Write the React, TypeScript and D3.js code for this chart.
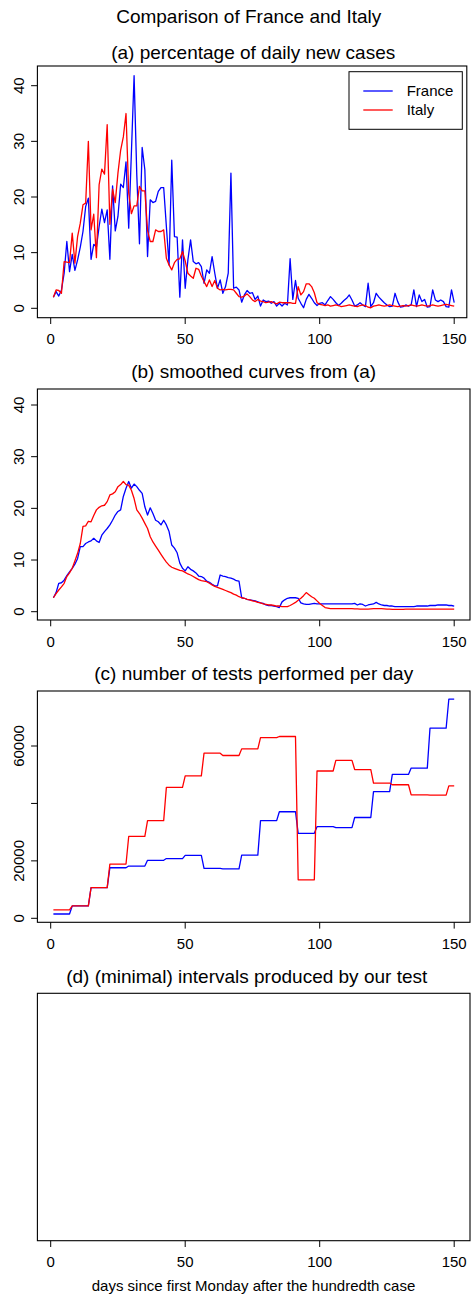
import React from "react";
import * as d3 from "d3";

// ---------- DATA ----------
const franceDaily = [
  2.0, 3.0, 2.2, 3.3, 6.3, 12.0, 6.6, 9.7, 6.8, 8.7,
  11.0, 13.8, 18.3, 19.8, 8.8, 11.5, 11.0, 14.7, 17.8, 15.4,
  17.7, 8.8, 22.0, 13.9, 16.5, 22.3, 21.7, 26.3, 14.4, 28.0,
  41.8, 24.0, 11.6, 28.9, 24.9, 9.3, 19.5, 19.0, 19.2, 21.0,
  21.7, 21.7, 14.7, 7.8, 26.6, 12.9, 12.8, 2.0, 12.3, 3.6,
  8.7, 12.3, 8.4, 8.0, 8.2, 7.5, 4.5, 6.9, 6.3, 9.3,
  6.3, 3.6, 5.1, 2.7, 3.9, 6.3, 24.3, 3.6, 3.8, 3.3,
  1.1, 2.4, 3.2, 2.7, 2.8, 1.6, 2.2, 0.4, 1.5, 1.2,
  1.3, 0.9, 1.2, 0.4, 0.9, 0.4, 0.9, 0.6, 8.9, 1.6,
  5.0, 1.8, 0.9, 0.1, 1.6, 2.5, 1.8, 1.0, 0.5, 0.9,
  1.0, 0.6, 1.4, 2.1, 1.6, 1.0, 0.5, 0.9, 1.4, 1.8,
  2.4, 1.5, 0.4, 0.6, 1.0, 0.6, 0.3, 4.5, 0.3, 1.0,
  2.7, 2.0, 1.5, 1.0, 0.6, 0.3, 0.4, 2.7, 1.2, 0.2,
  0.3, 0.6, 0.4, 0.6, 3.3, 0.3, 2.4, 1.2, 1.6, 0.2,
  0.3, 3.3, 1.5, 1.2, 1.5, 1.2, 0.3, 0.2, 3.3, 1.0,
];

const italyDaily = [
  2.0, 3.3, 3.2, 2.7, 8.4, 8.3, 8.2, 13.5, 8.1, 12.9,
  15.3, 18.6, 18.9, 30.0, 14.1, 16.9, 9.1, 22.2, 25.0, 24.1,
  33.0, 15.1, 21.4, 19.0, 24.3, 28.4, 30.8, 35.0, 20.7, 17.0,
  18.4, 18.4, 21.9, 21.1, 21.1, 14.0, 12.0, 12.0, 14.1, 13.8,
  13.8, 14.1, 9.0, 7.8, 6.9, 8.2, 8.8, 8.9, 10.2, 8.5,
  6.3, 5.8, 5.4, 7.2, 7.0, 5.8, 4.8, 3.9, 5.1, 3.9,
  5.0, 3.6, 3.3, 3.4, 3.3, 3.4, 3.4, 3.3, 2.7, 2.1,
  2.0, 2.2, 2.6, 2.1, 1.5, 1.2, 1.6, 1.3, 1.2, 1.0,
  1.1, 1.2, 1.0, 0.8, 1.1, 1.0, 1.0, 1.0, 1.0, 0.9,
  0.9, 3.9, 2.4, 3.0, 4.4, 4.4, 3.9, 2.8, 1.0, 0.7,
  0.6, 0.5, 0.6, 0.4, 0.5, 0.6, 0.5, 0.3, 0.4, 0.5,
  0.6, 0.5, 0.4, 0.3, 0.5, 0.6, 0.5, 0.2, 0.1, 0.4,
  0.5, 0.6, 0.5, 0.4, 0.5, 0.6, 0.5, 0.4, 0.3, 0.4,
  0.5, 0.4, 0.5, 0.6, 0.5, 0.4, 0.5, 0.6, 0.5, 0.4,
  0.5, 0.6, 0.5, 0.4, 0.5, 0.6, 0.7, 0.6, 0.5, 0.4,
];

const franceSmooth = [
  2.7, 3.7, 5.5, 5.6, 6.1, 7.0, 7.7, 8.4, 9.2, 10.3,
  12.6, 12.6, 13.2, 13.5, 13.7, 14.2, 13.7, 13.4, 14.8, 15.5,
  16.1, 16.8, 17.7, 18.7, 19.4, 19.7, 22.3, 23.9, 25.2, 23.9,
  24.7, 24.2, 23.5, 22.9, 20.3, 18.7, 20.1, 19.0, 17.7, 17.4,
  16.8, 17.7, 16.8, 15.5, 12.9, 12.3, 11.4, 9.4, 8.4, 7.9,
  8.7, 8.2, 7.9, 7.5, 6.9, 6.8, 6.5, 5.9, 5.7, 5.3,
  5.0, 5.0, 7.1, 6.9, 6.8, 6.6, 6.5, 6.3, 6.0, 5.9,
  2.7, 2.6, 2.4, 2.3, 2.2, 2.1, 1.9, 1.7, 1.6, 1.3,
  1.2, 1.2, 1.1, 1.0, 0.8, 1.9, 2.3, 2.6, 2.7, 2.7,
  2.7, 2.6, 1.7, 1.5, 1.4, 1.4, 1.5, 1.6, 1.5, 1.5,
  1.5, 1.5, 1.5, 1.5, 1.5, 1.5, 1.5, 1.5, 1.5, 1.5,
  1.5, 1.5, 1.6, 1.3, 1.5, 1.4, 1.1, 1.3, 1.4, 1.5,
  1.8, 1.5, 1.3, 1.2, 1.2, 1.1, 1.1, 1.0, 1.0, 1.0,
  1.0, 1.0, 1.0, 1.0, 1.0, 1.1, 1.1, 1.1, 1.1, 1.1,
  1.2, 1.2, 1.2, 1.3, 1.3, 1.3, 1.3, 1.2, 1.2, 1.1,
];

const italySmooth = [
  2.7, 3.5, 4.2, 4.8, 5.5, 6.8, 7.5, 8.4, 9.8, 11.3,
  13.2, 16.5, 16.6, 17.5, 17.4, 18.6, 19.7, 20.2, 20.5, 20.6,
  21.3, 22.6, 22.8, 23.2, 24.2, 24.6, 25.2, 24.6, 24.5, 23.5,
  21.9, 19.7, 19.0, 18.1, 17.1, 16.1, 14.5, 13.5, 12.7, 11.9,
  11.1, 10.3, 9.6, 9.0, 8.6, 8.4, 8.2, 8.0, 7.9, 7.6,
  7.3, 7.1, 6.8, 6.5, 6.2, 6.0, 5.9, 5.8, 5.5, 5.2,
  4.9, 4.7, 4.5, 4.3, 4.1, 3.9, 3.7, 3.4, 3.2, 2.9,
  2.7, 2.6, 2.4, 2.3, 2.1, 2.0, 1.8, 1.7, 1.5, 1.4,
  1.3, 1.3, 1.2, 1.1, 1.1, 1.0, 1.0, 1.0, 1.2, 1.5,
  1.8, 2.2, 2.6, 3.1, 3.7, 3.3, 2.9, 2.6, 2.1, 1.6,
  1.2, 0.8, 0.7, 0.6, 0.6, 0.6, 0.6, 0.6, 0.6, 0.6,
  0.6, 0.6, 0.55, 0.55, 0.5, 0.5, 0.5, 0.5, 0.55, 0.6,
  0.6, 0.6, 0.6, 0.55, 0.5, 0.5, 0.45, 0.45, 0.45, 0.45,
  0.45, 0.5, 0.5, 0.5, 0.5, 0.5, 0.5, 0.5, 0.5, 0.5,
  0.5, 0.5, 0.5, 0.5, 0.5, 0.5, 0.5, 0.5, 0.5, 0.5,
];

// tests per day, constant within each week (week k = days 7k+1 .. 7k+7)
const franceTestsWeekly = [
  1500, 4300, 10700, 17600, 18200, 20200, 20800, 21900, 17400, 17200, 22000,
  34000, 37100, 29600, 31900, 31600, 35100, 44100, 50100, 52300, 66200, 76300,
];
const italyTestsWeekly = [
  2900, 4300, 10700, 18900, 28500, 34000, 45600, 49600, 57500, 56700, 59000,
  62900, 63300, 13400, 51300, 55000, 51800, 47100, 46500, 43000, 42900, 46100,
];
const NDAYS = 150;

const xTicks = [0, 50, 100, 150];
const yTicksPct = [0, 10, 20, 30, 40];
const yTicksTests = [0, 20000, 40000, 60000];
const yLabelsTests = ["0", "20000", "", "60000"];

const seriesNames = ["France", "Italy"];
const seriesColors = ["#0000ff", "#ff0000"];

const mainTitle = "Comparison of France and Italy";
const panelTitles = [
  "(a) percentage of daily new cases",
  "(b) smoothed curves from (a)",
  "(c) number of tests performed per day",
  "(d) (minimal) intervals produced by our test",
];
const xLabel = "days since first Monday after the hundredth case";

// ---------- LAYOUT ----------
const W = 471;
const H = 1296;
const FONT = "'Liberation Sans', Arial, Helvetica, sans-serif";
const LEFT = 37.4;
const x = d3.scaleLinear().domain([0, 150]).range([50.7, 454.2]);

const expandWeekly = (w: number[]) =>
  d3.range(NDAYS).map((i) => w[Math.floor(i / 7)]);

type Panel = {
  top: number;
  bottom: number;
  right: number;
  y?: d3.ScaleLinear<number, number>;
  yTicks?: number[];
  yLabels?: string[];
  series?: number[][];
  title: string;
  titleX: number;
  titleY: number;
  legend?: boolean;
};

const panels: Panel[] = [
  {
    top: 66, bottom: 317.7, right: 466.8,
    y: d3.scaleLinear().domain([0, 40]).range([308.3, 85.7]),
    yTicks: yTicksPct, yLabels: yTicksPct.map(String),
    series: [franceDaily, italyDaily],
    title: panelTitles[0], titleX: 253.2, titleY: 58.8, legend: true,
  },
  {
    top: 389, bottom: 620, right: 470,
    y: d3.scaleLinear().domain([0, 40]).range([611.7, 405]),
    yTicks: yTicksPct, yLabels: yTicksPct.map(String),
    series: [franceSmooth, italySmooth],
    title: panelTitles[1], titleX: 253.7, titleY: 377.5,
  },
  {
    top: 691, bottom: 922.3, right: 470,
    y: d3.scaleLinear().domain([0, 60000]).range([918.3, 746]),
    yTicks: yTicksTests, yLabels: yLabelsTests,
    series: [expandWeekly(franceTestsWeekly), expandWeekly(italyTestsWeekly)],
    title: panelTitles[2], titleX: 253.7, titleY: 680,
  },
  {
    top: 993.3, bottom: 1240.7, right: 470,
    title: panelTitles[3], titleX: 246.7, titleY: 983.3,
  },
];

function PanelView({ p }: { p: Panel }) {
  const lineGen = (vals: number[]) =>
    d3
      .line<number>()
      .x((_, i) => x(i + 1))
      .y((v) => p.y!(v))(vals) || "";
  return (
    <g>
      <text x={p.titleX} y={p.titleY} fontSize={19} textAnchor="middle">
        {p.title}
      </text>
      {p.series &&
        p.series.map((s, k) => (
          <path key={k} d={lineGen(s)} fill="none" stroke={seriesColors[k]} strokeWidth={1.3} strokeLinejoin="round" />
        ))}
      <rect x={LEFT} y={p.top} width={p.right - LEFT} height={p.bottom - p.top} fill="none" stroke="#000" strokeWidth={1.1} />
      {/* x axis */}
      {xTicks.map((t) => (
        <g key={t}>
          <line x1={x(t)} x2={x(t)} y1={p.bottom} y2={p.bottom + 6.3} stroke="#000" strokeWidth={1} />
          <text x={x(t)} y={p.bottom + 26.5} fontSize={15} textAnchor="middle">
            {t}
          </text>
        </g>
      ))}
      {/* y axis */}
      {p.y &&
        p.yTicks!.map((t, i) => (
          <g key={t}>
            <line x1={LEFT - 6.3} x2={LEFT} y1={p.y!(t)} y2={p.y!(t)} stroke="#000" strokeWidth={1} />
            {p.yLabels![i] !== "" && (
              <text transform={`translate(24.3,${p.y!(t)}) rotate(-90)`} fontSize={15} textAnchor="middle">
                {p.yLabels![i]}
              </text>
            )}
          </g>
        ))}
      {p.legend && (
        <g>
          <rect x={349} y={71.7} width={113.3} height={57.6} fill="#fff" stroke="#000" strokeWidth={1} />
          {seriesNames.map((n, k) => (
            <g key={n}>
              <line x1={363.3} x2={392.7} y1={91 + k * 19} y2={91 + k * 19} stroke={seriesColors[k]} strokeWidth={1.3} />
              <text x={406.7} y={96.2 + k * 19} fontSize={15}>
                {n}
              </text>
            </g>
          ))}
        </g>
      )}
    </g>
  );
}

export default function App() {
  return (
    <svg
      width={W}
      height={H}
      style={{ position: "absolute", left: 0, top: 0, display: "block", background: "#fff" }}
      fontFamily={FONT}
    >
      <rect x={0} y={0} width={W} height={H} fill="#fff" />
      <text x={248.7} y={22.7} fontSize={19} textAnchor="middle">
        {mainTitle}
      </text>
      {panels.map((p, i) => (
        <PanelView key={i} p={p} />
      ))}
      <text x={253.5} y={1291} fontSize={15} textAnchor="middle">
        {xLabel}
      </text>
    </svg>
  );
}
